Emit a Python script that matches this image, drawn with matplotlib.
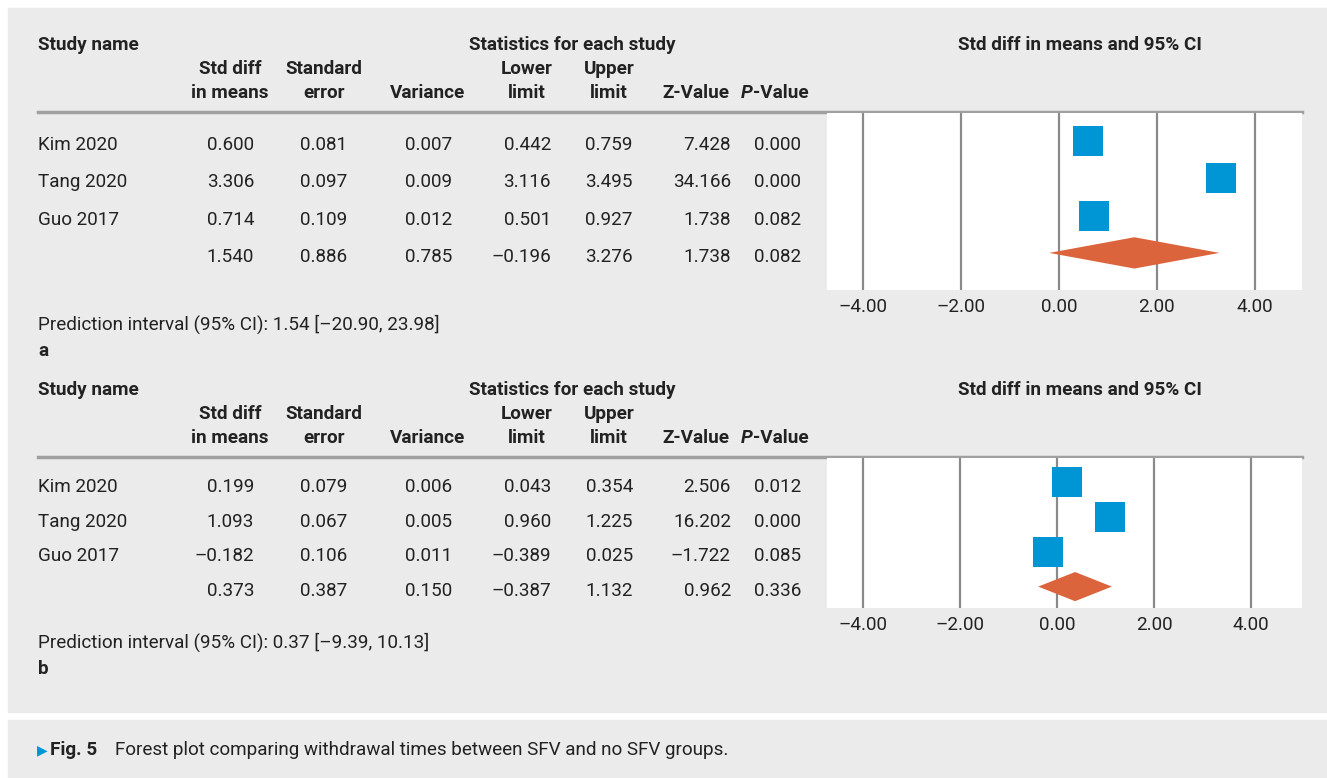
import matplotlib.pyplot as plt
from matplotlib.patches import Rectangle, Polygon
from matplotlib.lines import Line2D

# ---- data ----
studies = ['Kim 2020', 'Tang 2020', 'Guo 2017', '']

a_smd = [0.600, 3.306, 0.714, 1.540]
a_se = [0.081, 0.097, 0.109, 0.886]
a_var = [0.007, 0.009, 0.012, 0.785]
a_lower = [0.442, 3.116, 0.501, -0.196]
a_upper = [0.759, 3.495, 0.927, 3.276]
a_z = [7.428, 34.166, 1.738, 1.738]
a_p = [0.000, 0.000, 0.082, 0.082]
a_pi = '1.54 [–20.90, 23.98]'

b_smd = [0.199, 1.093, -0.182, 0.373]
b_se = [0.079, 0.067, 0.106, 0.387]
b_var = [0.006, 0.005, 0.011, 0.150]
b_lower = [0.043, 0.960, -0.389, -0.387]
b_upper = [0.354, 1.225, 0.025, 1.132]
b_z = [2.506, 16.202, -1.722, 0.962]
b_p = [0.012, 0.000, 0.085, 0.336]
b_pi = '0.37 [–9.39, 10.13]'

xticks = [-4, -2, 0, 2, 4]

# ---- style ----
W, H = 1327, 778
BG = '#eaebea'
BLUE = '#0096d6'
ORANGE = '#dc643c'
FS = 13.6
plt.rcParams['font.family'] = ['Roboto', 'DejaVu Sans']

fig = plt.figure(figsize=(W / 100, H / 100), dpi=100)
fig.patch.set_facecolor('white')
renderer = fig.canvas.get_renderer()


def fx(x):
    return x / W


def fy(y):
    return 1 - y / H


def txt(x, y, s, **kw):
    kw.setdefault('fontsize', FS)
    kw.setdefault('va', 'center')
    kw.setdefault('color', '#222222')
    return fig.text(fx(x), fy(y), s, **kw)


def fmt(v):
    s = '{:.3f}'.format(abs(v))
    return ('–' + s) if v < 0 else s


# grey panels
fig.patches.append(Rectangle((fx(8), fy(712)), fx(W - 8), 704 / H,
                             transform=fig.transFigure, color=BG, zorder=-5))
fig.patches.append(Rectangle((fx(8), fy(778)), fx(W - 8), 58 / H,
                             transform=fig.transFigure, color=BG, zorder=-5))

col_centers = [230, 324, 428, 527, 609, 696, 776]
col_right = [254, 347, 452, 551, 633, 731, 801]


def panel(top, row0, step, sq0, ax_top, ax_bot, xlim, cols, pi, label):
    # headers
    txt(38, top, 'Study name', fontweight='bold')
    txt(572, top, 'Statistics for each study', fontweight='bold', ha='center')
    txt(1080, top, 'Std diff in means and 95% CI', fontweight='bold', ha='center')
    h1 = ['Std diff', 'Standard', '', 'Lower', 'Upper', '', '']
    h2 = ['in means', 'error', 'Variance', 'limit', 'limit', 'Z-Value', 'P-Value']
    for c, a, b in zip(col_centers, h1, h2):
        if a:
            txt(c, top + 24, a, fontweight='bold', ha='center')
        if b == 'P-Value':
            t = txt(809, top + 48, '-Value', fontweight='bold', ha='right')
            x0 = t.get_window_extent(renderer).x0
            txt(x0 - 1, top + 48, 'P', fontweight='bold', style='italic', ha='right')
        else:
            txt(c, top + 48, b, fontweight='bold', ha='center')
    fig.add_artist(Line2D([fx(38), fx(1302)], [fy(top + 67)] * 2,
                          color='#a0a0a0', lw=2.5))

    # table rows
    for i, name in enumerate(studies):
        y = row0 + i * step
        if name:
            txt(38, y, name)
        for r, col in zip(col_right, cols):
            txt(r, y, fmt(col[i]), ha='right')

    txt(38, pi[1], 'Prediction interval (95% CI): ' + pi[0])
    txt(38, pi[1] + 27, label, fontweight='bold')

    # forest plot
    ax = fig.add_axes([fx(827), fy(ax_bot), fx(1302 - 827), (ax_bot - ax_top) / H])
    ax.set_facecolor('white')
    ax.set_zorder(2)
    smd, lo, hi = cols[0], cols[3], cols[4]
    ys = list(range(len(studies)))
    ax.plot(smd[:3], ys[:3], 's', color=BLUE, markersize=21, mew=0, zorder=3)
    d = 0.42
    ax.add_patch(Polygon([(lo[3], 3), (smd[3], 3 - d), (hi[3], 3), (smd[3], 3 + d)],
                         closed=True, color=ORANGE, lw=0, zorder=3))
    ax.set_xlim(*xlim)
    ax.set_ylim((ax_bot - sq0) / step, (ax_top - sq0) / step)
    ax.set_xticks(xticks)
    ax.set_xticklabels([('–' if t < 0 else '') + '{:.2f}'.format(abs(t)) for t in xticks],
                       fontsize=FS, color='#222222')
    ax.set_yticks([])
    ax.tick_params(length=0, pad=6)
    ax.grid(axis='x', color='#8a8a8c', lw=1.6)
    ax.set_axisbelow(True)
    for s in ax.spines.values():
        s.set_visible(False)


panel(45, 145, 37.3, 141, 113, 290, (-4.73, 4.96),
      [a_smd, a_se, a_var, a_lower, a_upper, a_z, a_p], (a_pi, 324), 'a')
panel(390, 487, 34.7, 482.5, 458, 608, (-4.74, 5.05),
      [b_smd, b_se, b_var, b_lower, b_upper, b_z, b_p], (b_pi, 642), 'b')

# caption
txt(37, 750, '▶', family='DejaVu Sans', color=BLUE, fontsize=10)
txt(50, 750, 'Fig. 5', fontweight='bold')
txt(115, 750, 'Forest plot comparing withdrawal times between SFV and no SFV groups.')

fig.savefig('out.png', dpi=100, facecolor='white')
